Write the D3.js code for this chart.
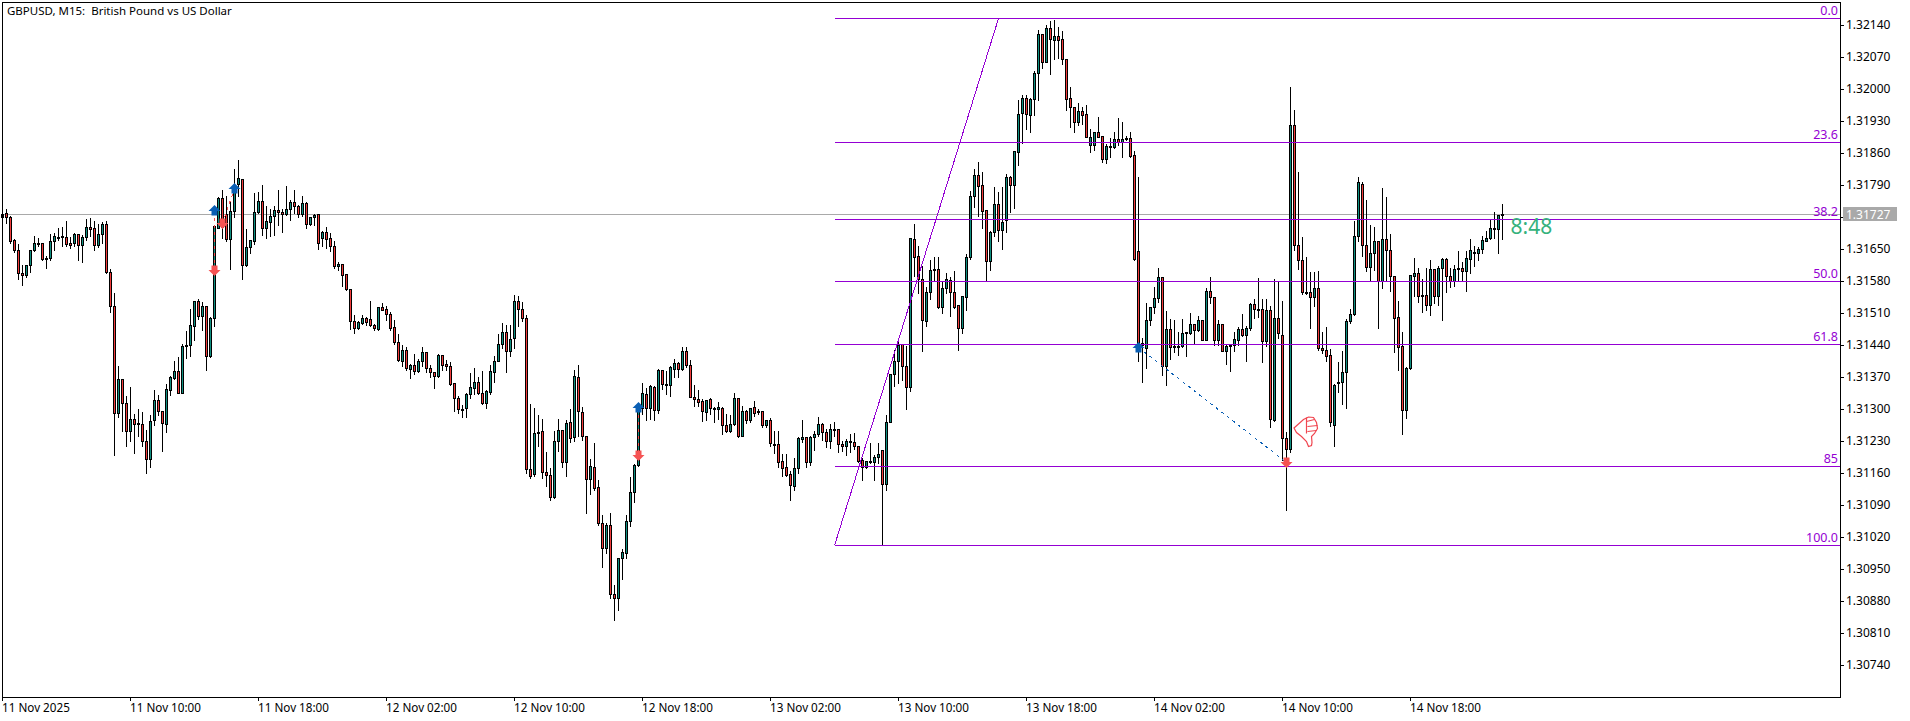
<!DOCTYPE html>
<html>
<head>
<meta charset="utf-8">
<script src="https://cdn.jsdelivr.net/npm/d3@7"></script>
<style>
    html, body { margin: 0; padding: 0; background: #fff; overflow: hidden; }
    text { font-family: "Noto Sans", sans-serif; font-size: 11.5px; fill: #000; }
</style>
</head>
<body>
<svg id="chart" width="1910" height="721"></svg>
<script>
/*
 *** Candles, in points above 1.30000, one per M15 bar
 */
var opens = [
    1721,1728,1719,1670,1648,1598,1593,1614,1647,1662,1664,1629,1630,1667,1675,1679,1677,1664,1664,1683,
    1658,1677,1699,1695,1658,1683,1705,1599,1525,1291,1366,1313,1251,1278,1269,1267,1230,1191,1275,1320,
    1296,1268,1342,1368,1383,1335,1438,1439,1481,1536,1503,1525,1415,1499,1697,1762,1727,1672,1734,1792,
    1804,1615,1654,1667,1731,1755,1697,1710,1723,1735,1731,1726,1737,1753,1744,1726,1751,1705,1720,1726,
    1675,1688,1675,1657,1612,1617,1595,1562,1492,1477,1489,1499,1497,1484,1476,1523,1519,1508,1479,1446,
    1406,1429,1388,1396,1383,1405,1425,1390,1380,1373,1418,1398,1394,1357,1324,1301,1302,1332,1347,1359,
    1335,1314,1338,1382,1405,1442,1468,1426,1455,1536,1518,1499,1169,1158,1247,1252,1162,1156,1107,1229,
    1254,1183,1272,1238,1370,1293,1240,1146,1173,1129,1051,996,1046,895,886,974,986,1054,1118,1177,
    1302,1333,1302,1349,1297,1386,1355,1352,1388,1400,1387,1427,1396,1327,1322,1317,1293,1322,1303,1301,
    1302,1264,1251,1267,1324,1241,1296,1277,1304,1296,1296,1264,1276,1223,1223,1186,1173,1158,1131,1171,
    1234,1239,1183,1238,1245,1267,1250,1230,1255,1256,1223,1218,1231,1228,1219,1188,1174,1184,1183,1194,
    1210,1137,1271,1376,1406,1443,1395,1348,1672,1634,1584,1492,1555,1606,1606,1524,1565,1583,1556,1527,
    1477,1546,1632,1765,1812,1790,1735,1624,1688,1748,1692,1714,1808,1789,1863,1947,1980,1944,1978,2035,
    2120,2059,2133,2108,2116,2109,2066,1980,1961,1928,1952,1945,1877,1877,1906,1897,1846,1873,1874,1891,
    1885,1890,1893,1856,1646,1445,1433,1494,1523,1543,1589,1393,1475,1437,1435,1437,1466,1467,1486,1473,
    1495,1452,1558,1545,1452,1486,1426,1441,1441,1452,1475,1461,1477,1530,1519,1519,1449,1517,1275,1499,
    1462,1237,1213,1922,1659,1627,1557,1556,1546,1565,1433,1430,1418,1266,1357,1358,1380,1492,1508,1678,
    1792,1659,1611,1641,1668,1581,1672,1648,1590,1501,1438,1298,1390,1592,1598,1549,1549,1527,1606,1548,
    1608,1629,1591,1580,1606,1609,1602,1629,1642,1642,1649,1668,1673,1694,1694,1725
];
var highs = [
    1732,1740,1725,1674,1664,1618,1616,1651,1681,1677,1666,1637,1686,1687,1699,1701,1714,1679,1687,1686,
    1682,1717,1721,1713,1707,1712,1714,1609,1557,1396,1367,1331,1351,1292,1303,1296,1256,1290,1344,1333,
    1298,1357,1374,1407,1417,1444,1473,1522,1537,1543,1537,1526,1504,1705,1765,1781,1769,1758,1827,1847,
    1806,1695,1672,1774,1776,1793,1747,1740,1746,1781,1740,1790,1760,1782,1748,1769,1754,1723,1729,1727,
    1692,1701,1688,1670,1624,1618,1597,1562,1508,1495,1508,1503,1539,1488,1523,1535,1527,1515,1497,1466,
    1442,1438,1401,1422,1411,1438,1425,1399,1384,1422,1421,1410,1405,1357,1331,1312,1338,1382,1392,1373,
    1386,1344,1399,1418,1466,1491,1487,1487,1552,1550,1537,1508,1313,1304,1290,1281,1209,1173,1254,1281,
    1256,1278,1302,1388,1399,1307,1240,1193,1228,1147,1071,1053,1075,918,976,996,1071,1154,1182,1303,
    1359,1349,1355,1353,1390,1388,1386,1397,1411,1406,1437,1438,1409,1355,1344,1324,1322,1326,1306,1317,
    1306,1291,1288,1337,1324,1309,1301,1304,1320,1302,1298,1279,1282,1253,1255,1204,1204,1166,1195,1240,
    1278,1242,1244,1255,1285,1271,1258,1269,1274,1256,1233,1237,1247,1250,1220,1196,1189,1228,1202,1227,
    1210,1288,1377,1431,1448,1444,1441,1675,1707,1659,1616,1568,1628,1634,1634,1583,1599,1590,1605,1530,
    1550,1642,1780,1827,1843,1821,1736,1692,1788,1776,1788,1816,1812,1865,1979,1990,1990,1982,2041,2131,
    2122,2143,2152,2154,2137,2128,2068,2007,1962,1972,1962,1968,1915,1907,1942,1900,1882,1896,1909,1939,
    1930,1900,1909,1866,1810,1457,1535,1526,1570,1611,1590,1517,1499,1497,1471,1499,1470,1513,1488,1506,
    1497,1567,1590,1546,1497,1486,1444,1444,1470,1481,1510,1484,1535,1543,1589,1543,1543,1528,1587,1583,
    1539,1251,2007,1957,1821,1678,1634,1601,1601,1605,1470,1482,1434,1357,1404,1428,1499,1521,1714,1810,
    1799,1760,1705,1701,1670,1786,1767,1685,1594,1539,1471,1393,1594,1632,1611,1587,1611,1628,1609,1616,
    1632,1632,1611,1618,1648,1623,1648,1675,1659,1657,1681,1692,1716,1734,1727,1751
];
var lows = [
    1718,1707,1664,1644,1585,1572,1589,1599,1646,1657,1627,1608,1627,1647,1669,1656,1657,1653,1656,1627,
    1622,1670,1678,1647,1654,1664,1597,1512,1199,1282,1252,1218,1229,1203,1242,1218,1161,1174,1266,1287,
    1209,1249,1330,1366,1334,1334,1412,1417,1452,1497,1473,1386,1414,1481,1695,1675,1668,1606,1721,1765,
    1584,1613,1642,1661,1729,1681,1673,1679,1681,1703,1688,1725,1714,1729,1721,1723,1696,1702,1703,1651,
    1657,1653,1645,1608,1603,1568,1561,1476,1466,1476,1486,1483,1481,1472,1473,1516,1494,1473,1443,1406,
    1393,1386,1368,1376,1382,1393,1382,1370,1347,1371,1386,1386,1352,1296,1291,1282,1282,1323,1333,1333,
    1312,1303,1333,1360,1404,1433,1382,1415,1433,1482,1492,1161,1148,1153,1218,1150,1131,1102,1106,1209,
    1174,1153,1227,1231,1240,1233,1072,1115,1122,1046,954,985,886,839,861,929,975,1043,1096,1176,
    1288,1275,1279,1277,1292,1344,1333,1328,1371,1371,1386,1391,1326,1306,1306,1273,1275,1290,1271,1279,
    1245,1249,1250,1266,1238,1240,1269,1272,1284,1290,1260,1261,1218,1204,1173,1153,1153,1102,1122,1160,
    1227,1174,1177,1211,1242,1233,1217,1215,1242,1207,1209,1200,1207,1213,1185,1145,1171,1182,1145,1182,
    1003,1123,1271,1351,1357,1363,1301,1340,1592,1554,1426,1482,1540,1583,1521,1511,1554,1504,1521,1430,
    1467,1517,1628,1742,1723,1697,1581,1605,1678,1667,1651,1688,1732,1740,1833,1882,1913,1907,1944,1975,
    2046,2058,2033,2066,2068,2055,1955,1916,1907,1922,1924,1894,1863,1867,1894,1840,1839,1852,1871,1878,
    1851,1889,1851,1627,1404,1358,1390,1484,1510,1533,1375,1353,1409,1424,1419,1435,1417,1465,1443,1471,
    1451,1451,1532,1441,1441,1426,1399,1384,1426,1441,1459,1406,1473,1498,1501,1402,1438,1260,1273,1455,
    1189,1078,1205,1647,1607,1552,1552,1478,1526,1428,1422,1406,1262,1220,1338,1312,1303,1488,1506,1667,
    1635,1601,1579,1605,1478,1565,1579,1559,1424,1386,1246,1280,1387,1548,1535,1513,1516,1506,1532,1528,
    1495,1557,1567,1570,1579,1579,1559,1597,1612,1625,1642,1667,1671,1674,1641,1672
];
var closes = [
    1727,1721,1667,1647,1598,1593,1614,1648,1664,1664,1629,1631,1667,1679,1677,1677,1660,1659,1683,1658,
    1677,1698,1694,1658,1683,1705,1599,1525,1291,1366,1313,1251,1278,1268,1267,1231,1191,1274,1320,1295,
    1269,1344,1370,1383,1335,1438,1440,1484,1536,1503,1525,1415,1499,1701,1762,1699,1671,1734,1775,1805,
    1615,1654,1669,1731,1755,1697,1711,1723,1735,1731,1727,1737,1753,1744,1726,1751,1705,1721,1725,1664,
    1688,1672,1657,1612,1618,1593,1562,1492,1477,1491,1499,1490,1484,1477,1523,1517,1508,1478,1446,1407,
    1429,1389,1396,1383,1405,1425,1389,1380,1373,1418,1397,1395,1355,1323,1300,1299,1333,1348,1359,1335,
    1314,1339,1383,1405,1442,1468,1426,1453,1536,1518,1499,1169,1153,1247,1250,1162,1155,1107,1230,1254,
    1183,1270,1237,1372,1295,1240,1147,1175,1128,1050,996,1046,895,886,974,987,1055,1118,1177,1298,
    1335,1302,1351,1298,1386,1354,1352,1392,1400,1387,1427,1396,1327,1322,1315,1295,1320,1302,1301,1304,
    1264,1251,1267,1324,1240,1296,1277,1302,1292,1294,1264,1275,1225,1221,1185,1172,1156,1133,1171,1237,
    1239,1183,1239,1245,1267,1250,1230,1256,1257,1223,1218,1231,1228,1218,1187,1174,1186,1186,1195,1202,
    1137,1272,1377,1406,1441,1393,1348,1674,1632,1584,1494,1556,1605,1604,1524,1565,1584,1555,1524,1477,
    1548,1632,1765,1812,1787,1734,1624,1687,1748,1691,1710,1808,1789,1864,1945,1980,1945,1978,2035,2120,
    2059,2133,2109,2116,2108,2066,1979,1961,1928,1952,1944,1896,1895,1906,1896,1846,1875,1875,1891,1885,
    1891,1893,1854,1628,1444,1441,1495,1523,1543,1589,1393,1475,1436,1435,1437,1466,1468,1486,1473,1495,
    1452,1558,1544,1452,1486,1426,1438,1438,1453,1475,1461,1477,1530,1519,1517,1449,1517,1278,1499,1466,
    1237,1213,1922,1658,1627,1557,1555,1546,1565,1433,1428,1417,1271,1352,1360,1381,1493,1508,1679,1797,
    1658,1611,1641,1667,1581,1672,1647,1590,1500,1436,1298,1390,1594,1597,1548,1548,1527,1606,1548,1608,
    1629,1590,1580,1606,1608,1601,1630,1648,1644,1650,1670,1674,1695,1696,1725,1727
];

// axis labels
var priceTicks = [1.32140,1.32070,1.32000,1.31930,1.31860,1.31790,1.31720,1.31650,1.31580,1.31510,1.31440,
    1.31370,1.31300,1.31230,1.31160,1.31090,1.31020,1.30950,1.30880,1.30810,1.30740];
var timeTickBars = [0,32,64,96,128,160,192,224,256,288,320,352];
var timeLabels = ["11 Nov 2025","11 Nov 10:00","11 Nov 18:00","12 Nov 02:00","12 Nov 10:00","12 Nov 18:00",
    "13 Nov 02:00","13 Nov 10:00","13 Nov 18:00","14 Nov 02:00","14 Nov 10:00","14 Nov 18:00"];

// fibonacci retracement object
var fibLabels = ["0.0","23.6","38.2","50.0","61.8","85","100.0"];
var fibPoints = [2155,1884,1716,1580,1442,1175,1003];
var fibStartBar = 208;
var fibEndBar = 249;

// trade arrows: bar and price in points
var buyBars = [53,58,159,284];
var buyPoints = [1736,1784,1305,1436];
var sellBars = [53,55,159,321];
var sellPoints = [1605,1707,1200,1185];

var bidPoints = 1727;
var bidLabel = "1.31727";
var countdown = "8:48";
var chartTitle = "GBPUSD, M15:  British Pound vs US Dollar";

var fibColor = "#9400d3", upColor = "#0e8f80", downColor = "#f23c3c";
var buyColor = "#0a5fb4", sellColor = "#f55353";

var left = 2, top_ = 2, right = 1840, bottom = 697;

var x = d3.scaleLinear().domain([0, 375]).range([2.5, 1502.5]);
var y = d3.scaleLinear().domain([1.32140, 1.30740]).range([25, 665]);

function price(points){
    return 1.3 + points / 100000;
}

// snap to the middle of a pixel row, the terminal draws aliased
function py(points){
    return Math.round(y(price(points))) + 0.5;
}

var svg = d3.select("#chart");


/*
 *** Bid line goes behind the candles
 */
svg.append("line")
    .attr("x1", left).attr("x2", right)
    .attr("y1", py(bidPoints)).attr("y2", py(bidPoints))
    .attr("stroke", "#a9a9a9")
    .attr("shape-rendering", "crispEdges");


/*
 *** Candles
 */
var candles = svg.append("g").attr("shape-rendering", "crispEdges");

opens.forEach(function(open, i){
    var cx = x(i);
    var top = py(Math.max(open, closes[i]));
    var bot = py(Math.min(open, closes[i]));

    candles.append("line")
        .attr("x1", cx).attr("x2", cx)
        .attr("y1", py(highs[i])).attr("y2", py(lows[i]))
        .attr("stroke", "#000");

    candles.append("rect")
        .attr("x", cx - 1)
        .attr("y", top)
        .attr("width", 2)
        .attr("height", Math.max(bot - top, 1))
        .attr("fill", closes[i] >= open ? upColor : downColor)
        .attr("stroke", "#000");
});


/*
 *** Fibonacci levels, its trend line and the labels above the right end
 */
var fib = svg.append("g").attr("shape-rendering", "crispEdges");

fib.selectAll("line.level")
    .data(fibPoints)
    .enter().append("line")
    .attr("class", "level")
    .attr("x1", x(fibStartBar)).attr("x2", right)
    .attr("y1", py).attr("y2", py)
    .attr("stroke", fibColor);

fib.append("line")
    .attr("x1", x(fibStartBar)).attr("y1", py(fibPoints[6]))
    .attr("x2", x(fibEndBar)).attr("y2", py(fibPoints[0]))
    .attr("stroke", fibColor);

svg.selectAll("text.fibLabel")
    .data(fibLabels)
    .enter().append("text")
    .attr("class", "fibLabel")
    .attr("x", right - 2)
    .attr("y", function(d, i){ return py(fibPoints[i]) - 4; })
    .attr("text-anchor", "end")
    .style("fill", fibColor)
    .style("font-size", "12.5px")
    .text(function(d){ return d; });


/*
 *** Trade lines between the arrows
 */
var trades = svg.append("g").attr("shape-rendering", "crispEdges");

function tradeLine(bar1, points1, bar2, points2, color){
    trades.append("line")
        .attr("x1", x(bar1)).attr("y1", py(points1))
        .attr("x2", x(bar2)).attr("y2", py(points2))
        .attr("stroke", color)
        .attr("stroke-dasharray", "3,4");
}

tradeLine(buyBars[0], buyPoints[0], sellBars[0], sellPoints[0], sellColor);
tradeLine(sellBars[1], sellPoints[1], buyBars[1], buyPoints[1], sellColor);
tradeLine(buyBars[2], buyPoints[2], sellBars[2], sellPoints[2], sellColor);
tradeLine(buyBars[3], buyPoints[3], sellBars[3], sellPoints[3], buyColor);


/*
 *** Arrows
 */
var arrowUp = "M0,-5.5L6,0.5L3,0.5L3,5L-3,5L-3,0.5L-6,0.5Z";
var arrowDown = "M0,5.5L6,-0.5L3,-0.5L3,-5L-3,-5L-3,-0.5L-6,-0.5Z";

function drawArrows(bars, points, shape, color){
    svg.selectAll(null)
        .data(bars)
        .enter().append("path")
        .attr("d", shape)
        .attr("transform", function(d, i){ return "translate(" + x(d) + "," + py(points[i]) + ")"; })
        .attr("fill", color);
}

drawArrows(buyBars, buyPoints, arrowUp, buyColor);
drawArrows(sellBars, sellPoints, arrowDown, sellColor);


/*
 *** Thumbs down mark next to the last sell
 */
var thumb = svg.append("g")
    .attr("transform", "translate(" + (x(sellBars[3]) + 7) + "," + (py(sellPoints[3]) - 46) + ")")
    .attr("fill", "#fff")
    .attr("stroke", "#f0454f")
    .attr("stroke-width", 1.2);

thumb.append("path").attr("d", "M0.5,11.5L10,3L15,0.5L20,1L23,6L24,12L21,17L18,20L18.5,26L18,29L15,30L13,25L8,20L3,16Z");
thumb.append("path").attr("fill", "none").attr("d", "M13,5L21,3M14,10L24,9M14,15L23,14M13,1L13,17");


/*
 *** Countdown to the next bar
 */
svg.append("text")
    .attr("x", x(375) + 8)
    .attr("y", py(bidPoints) + 19)
    .style("font-size", "21px")
    .style("fill", "#35b27c")
    .text(countdown);


/*
 *** Axes
 */
var priceAxis = d3.axisRight(y)
    .tickValues(priceTicks)
    .tickSize(4)
    .tickPadding(2)
    .tickFormat(d3.format(".5f"));

svg.append("g")
    .attr("transform", "translate(" + right + ",0)")
    .call(priceAxis)
    .call(function(g){ g.select(".domain").remove(); })
    .call(function(g){ g.selectAll("text").style("font-size", "12px"); });

var timeAxis = d3.axisBottom(x)
    .tickValues(timeTickBars)
    .tickSize(4)
    .tickPadding(3)
    .tickFormat(function(d, i){ return timeLabels[i]; });

svg.append("g")
    .attr("transform", "translate(0," + bottom + ")")
    .call(timeAxis)
    .call(function(g){ g.select(".domain").remove(); })
    .call(function(g){
        g.selectAll("line").attr("transform", "translate(-0.5,0)");
        g.selectAll("text").attr("text-anchor", "start").attr("dx", "-1").style("font-size", "11.7px");
    });

svg.selectAll(".tick text").attr("font-family", null);
svg.selectAll(".tick line").attr("shape-rendering", "crispEdges");

svg.append("rect")
    .attr("x", left + 0.5).attr("y", top_ + 0.5)
    .attr("width", right - left).attr("height", bottom - top_)
    .attr("fill", "none")
    .attr("stroke", "#000")
    .attr("shape-rendering", "crispEdges");

// grey price label sits over the tick underneath it
svg.append("rect")
    .attr("x", right + 3).attr("y", py(bidPoints) - 7.5)
    .attr("width", 54).attr("height", 14)
    .attr("fill", "#a9a9a9");

svg.append("text")
    .attr("x", right + 6)
    .attr("y", py(bidPoints) + 4)
    .style("fill", "#fff")
    .style("font-size", "12px")
    .text(bidLabel);

svg.append("text")
    .attr("x", 7)
    .attr("y", 15)
    .attr("xml:space", "preserve")
    .style("white-space", "pre")
    .text(chartTitle);
</script>
</body>
</html>
